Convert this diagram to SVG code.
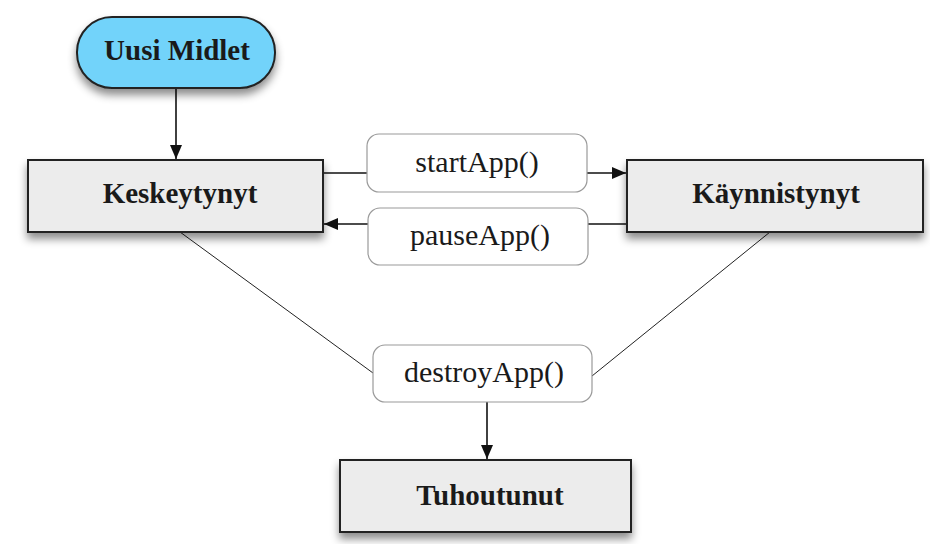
<svg xmlns="http://www.w3.org/2000/svg" width="930" height="544" viewBox="0 0 930 544">
<style>
.state{fill:#ececec;stroke:#222;stroke-width:2}
.start{fill:#72d3fa;stroke:#222;stroke-width:2}
.lbl{fill:#fff;stroke:#9a9a9a;stroke-width:1.2}
.bt{font-family:"Liberation Serif",serif;font-weight:bold;font-size:29px;fill:#1a1a1a;text-anchor:middle}
.rt{font-family:"Liberation Serif",serif;font-size:30px;fill:#1a1a1a;text-anchor:middle}
.ln{stroke:#111;stroke-width:1.6;fill:none}
.dg{stroke:#222;stroke-width:1;fill:none}
</style>
<defs>
<filter id="sh" x="-10%" y="-20%" width="120%" height="160%">
<feDropShadow dx="0" dy="6" stdDeviation="4.5" flood-color="#000" flood-opacity="0.45"/>
</filter>
<marker id="ah" viewBox="0 0 14 12" refX="14" refY="6" markerWidth="14" markerHeight="12" markerUnits="userSpaceOnUse" orient="auto">
<path d="M0,0 L14,6 L0,12 Z" fill="#111"/>
</marker>
</defs>
<rect width="930" height="544" fill="#fff"/>
<g id="connectors">
<line class="ln" x1="176" y1="88" x2="176" y2="159" marker-end="url(#ah)"/>
<line class="ln" x1="323" y1="173" x2="367" y2="173"/>
<line class="ln" x1="587" y1="173" x2="626" y2="173" marker-end="url(#ah)"/>
<line class="ln" x1="627" y1="224" x2="588" y2="224"/>
<line class="ln" x1="368" y1="224" x2="324" y2="224" marker-end="url(#ah)"/>
<line class="dg" x1="180" y1="232" x2="373" y2="373"/>
<line class="dg" x1="770" y1="232" x2="592" y2="376"/>
<line class="ln" x1="487" y1="402" x2="487" y2="459" marker-end="url(#ah)"/>
</g>
<g id="uusi-midlet">
<rect class="start" x="77" y="17" width="198" height="71" rx="35" filter="url(#sh)"/>
<text class="bt" x="177" y="60">Uusi Midlet</text>
</g>
<g id="keskeytynyt">
<rect class="state" x="28" y="160" width="295" height="72" filter="url(#sh)"/>
<text class="bt" x="180" y="203">Keskeytynyt</text>
</g>
<g id="kaynnistynyt">
<rect class="state" x="627" y="160" width="296" height="72" filter="url(#sh)"/>
<text class="bt" x="776" y="203">Käynnistynyt</text>
</g>
<g id="tuhoutunut">
<rect class="state" x="340" y="460" width="291" height="72" filter="url(#sh)"/>
<text class="bt" x="490" y="505">Tuhoutunut</text>
</g>
<g id="startApp">
<rect class="lbl" x="367" y="134" width="220" height="58" rx="12"/>
<text class="rt" x="477" y="172">startApp()</text>
</g>
<g id="pauseApp">
<rect class="lbl" x="368" y="208" width="220" height="57" rx="12"/>
<text class="rt" x="480" y="245">pauseApp()</text>
</g>
<g id="destroyApp">
<rect class="lbl" x="373" y="345" width="219" height="57" rx="12"/>
<text class="rt" x="484" y="382">destroyApp()</text>
</g>
</svg>
